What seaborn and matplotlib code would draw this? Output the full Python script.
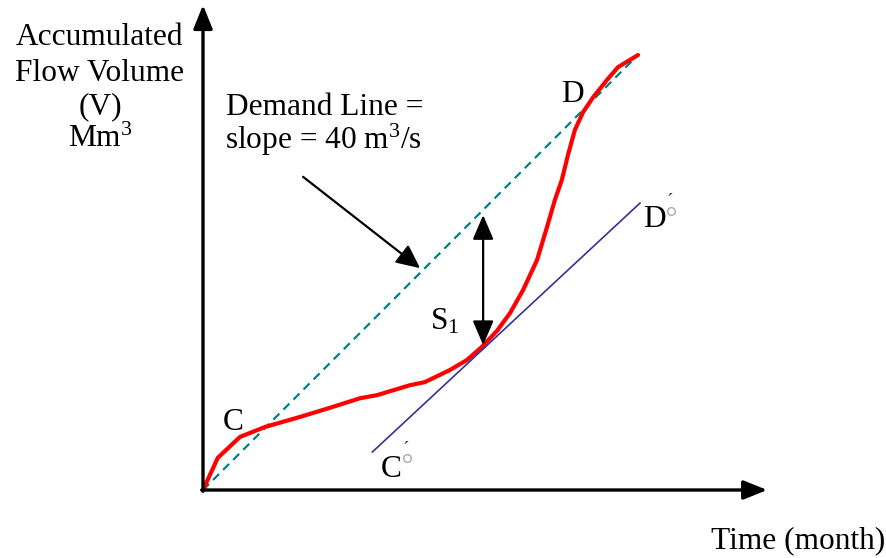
import matplotlib
matplotlib.use("Agg")
import matplotlib.pyplot as plt
from matplotlib.lines import Line2D
import seaborn as sns
import pandas as pd

# Mass (Rippl) curve: accumulated inflow volume against time
time = [0.00, 0.34, 0.85, 1.43, 2.23, 2.92, 3.61, 4.00, 4.76, 5.10, 5.68, 6.07,
        6.41, 6.76, 7.06, 7.36, 7.68, 7.91, 8.09, 8.25, 8.39, 8.55, 8.74, 8.97,
        9.29, 9.54, 9.82, 10.00]
volume = [0.00, 0.74, 1.22, 1.45, 1.68, 1.89, 2.11, 2.18, 2.41, 2.48, 2.76, 2.99,
          3.29, 3.66, 4.07, 4.60, 5.29, 6.05, 6.67, 7.13, 7.70, 8.28, 8.69, 9.03,
          9.43, 9.72, 9.89, 10.00]

# Demand line (slope = 40 m3/s) through the origin
demand_t = [0.0, 10.0]
demand_v = [0.0, 10.0]

# Parallel demand line C'-D' tangent to the mass curve
tangent_t = [3.89, 10.05]
tangent_v = [0.87, 6.60]

# Storage S1: vertical gap between the two demand lines
s1_t = 6.44
s1_low, s1_high = 3.33, 6.32

sns.set_theme(style="white")
plt.rcParams["font.family"] = ["Liberation Serif", "DejaVu Serif"]
plt.rcParams["mathtext.fontset"] = "custom"
plt.rcParams["mathtext.rm"] = "Liberation Serif"
plt.rcParams["mathtext.it"] = "Liberation Serif:italic"

W, H = 887, 558
fig = plt.figure(figsize=(W / 100, H / 100), dpi=100)
ax = fig.add_axes([0, 0, 1, 1])
ax.set_xlim(-203 / 43.5, (W - 203) / 43.5)
ax.set_ylim(-(H - 490) / 43.5, 490 / 43.5)
ax.axis("off")

df_mass = pd.DataFrame({"t": time, "v": volume})
df_demand = pd.DataFrame({"t": demand_t, "v": demand_v})
df_tan = pd.DataFrame({"t": tangent_t, "v": tangent_v})

sns.lineplot(data=df_demand, x="t", y="v", ax=ax, color="#008080", lw=1.6,
             dashes=False, linestyle=(0, (3.8, 2.6)), zorder=2)
sns.lineplot(data=df_mass, x="t", y="v", ax=ax, sort=False, color="#ff0000",
             lw=3.0, zorder=3)
sns.lineplot(data=df_tan, x="t", y="v", ax=ax, color="#333399", lw=1.2, zorder=4)

# Axes with arrow heads
axis_style = dict(arrowstyle="-|>,head_length=0.72,head_width=0.29",
                  color="black", lw=2.4, mutation_scale=20,
                  shrinkA=0, shrinkB=0)
ax.annotate("", xy=(12.97, 0), xytext=(-0.03, 0), arrowprops=axis_style, zorder=5)
ax.annotate("", xy=(0, 11.15), xytext=(0, -0.03), arrowprops=axis_style, zorder=5)

# Storage arrow
ax.annotate("", xy=(s1_t, s1_high), xytext=(s1_t, s1_low),
            arrowprops=dict(arrowstyle="<|-|>,head_length=0.75,head_width=0.32",
                            color="black", lw=1.6, mutation_scale=20,
                            shrinkA=0, shrinkB=0), zorder=6)

# Pointer to demand line
ax.annotate("", xy=(4.99, 5.10), xytext=(2.30, 7.20),
            arrowprops=dict(arrowstyle="-|>,head_length=0.72,head_width=0.34",
                            color="black", lw=1.6, mutation_scale=20,
                            shrinkA=0, shrinkB=0), zorder=6)


def put(x, y, s, size=22.6, color="black", ha="center", va="baseline"):
    fig.text(x / W, 1 - y / H, s, fontsize=size, color=color, ha=ha, va=va)


def ring(x, y):
    # small hollow degree-like ring next to the primed point labels
    fig.add_artist(Line2D([x / W], [1 - y / H], transform=fig.transFigure,
                          marker="o", ms=5.5, mfc="none", mec="#a0a0a0",
                          mew=0.9, ls="none"))


put(100, 45, "Accumulated")
put(100, 81, "Flow Volume")
put(100, 114, "(V)")
put(100, 147, r"Mm$^{3}$")

put(325, 115, "Demand Line =")
put(323, 149, r"slope = 40 m$^{3}$/s")

put(798, 548, "Time (month)")

put(572, 102, "D")
put(654, 227, "D")
put(670, 201, "\u00b4", size=14, color="#333333", va="center")
ring(671, 211)

put(233, 430, "C")
put(391, 477, "C")
put(406, 449, "\u00b4", size=14, color="#333333", va="center")
ring(407, 458)

put(445, 330, r"S$_{1}$")

fig.savefig("out.png", dpi=100)
